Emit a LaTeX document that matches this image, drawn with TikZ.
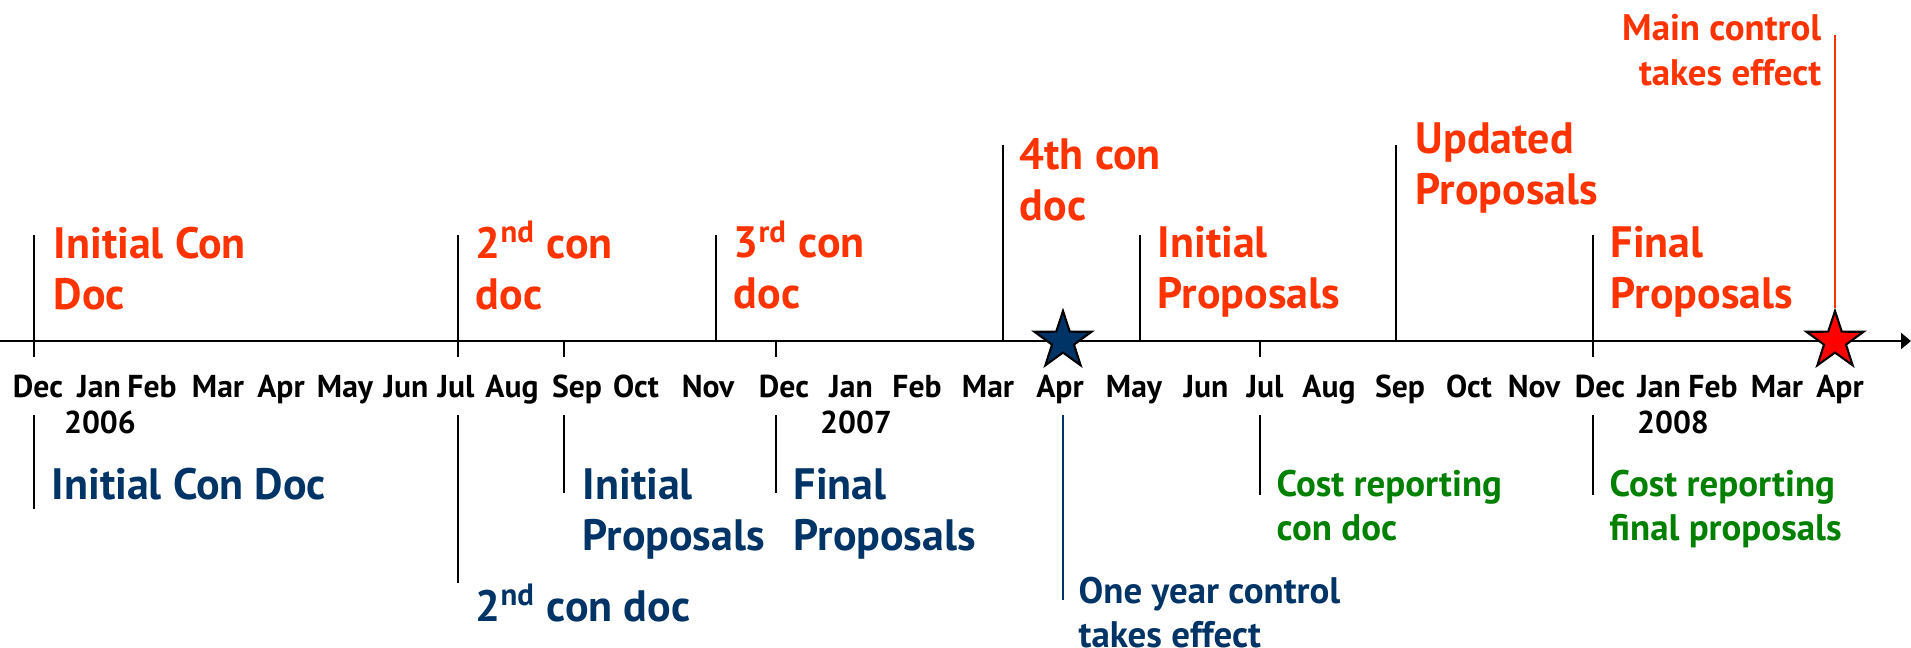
\documentclass[tikz,border=0pt]{standalone}
\usepackage{fontspec}
\setmainfont{PT Sans}
\usetikzlibrary{arrows.meta,shapes.geometric}

\definecolor{conred}{RGB}{255,51,0}
\definecolor{connavy}{RGB}{0,51,102}
\definecolor{congreen}{RGB}{0,128,0}

\tikzset{
  month/.style={anchor=base, inner sep=0, font=\bfseries\fontsize{9}{10}\selectfont},
  evbig/.style={anchor=north west, inner sep=0, align=left, font=\bfseries\fontsize{12.5}{14.5}\selectfont},
  evsmall/.style={anchor=north west, inner sep=0, align=left, font=\bfseries\fontsize{10.5}{12.6}\selectfont},
  tick/.style={line width=0.45pt},
  evstar/.style={star, star points=5, star point ratio=2.6, minimum size=0.6cm, inner sep=0, draw=black, line width=0.6pt},
}

\begin{document}
\begin{tikzpicture}[x=0.01cm, y=-0.01cm]
    \useasboundingbox (0,0) rectangle (1911,647);
    % time axis
    \coordinate (axL) at (0,341);
    \coordinate (axR) at (1911,341);
    \draw[line width=0.8pt, -{Triangle[length=0.1cm, width=0.16cm]}] (axL) -- (axR);

    % month and year labels
    \foreach \mx/\mname [count=\i] in {38/Dec, 99/Jan, 152/Feb, 218/Mar, 281/Apr, 345/May, 406/Jun, 456/Jul, 512/Aug, 577/Sep, 636/Oct,
        708/Nov, 784/Dec, 851/Jan, 917/Feb, 988/Mar, 1060/Apr, 1134/May, 1206/Jun, 1265/Jul, 1329/Aug, 1400/Sep, 1469/Oct,
        1534/Nov, 1600/Dec, 1659/Jan, 1713/Feb, 1777/Mar, 1840/Apr}
      \node[month] (m\i) at (\mx,397) {\mname};
    \node[month] (y06) at (100,433) {2006};
    \node[month] (y07) at (856,433) {2007};
    \node[month] (y08) at (1673,433) {2008};

    % event points on the axis
    \foreach \tname/\tx in {dec06/34, jul06/458, sep06/564, nov06/716, dec06b/776, mar07/1003, apr07/1063,
        may07/1140, jul07/1260, sep07/1396, dec07/1593, apr08/1835}
      \coordinate (\tname) at (\tx,341);

    % ticks above and just below the axis
    \foreach \tname/\tup/\tdown in {dec06/-106/16, jul06/-106/16, sep06/0/16, nov06/-106/0, dec06b/0/16,
        mar07/-196/0, may07/-106/0, jul07/0/16, sep07/-196/0, dec07/-106/16} {
      \draw[tick] (\tname) -- ++(0,\tup);
      \draw[tick] (\tname) -- ++(0,\tdown);
    }
    % ticks under the month row
    \foreach \tname/\tlen in {dec06/94, jul06/168, sep06/78, dec06b/78, jul07/80, dec07/80}
      \draw[tick] (\tname) ++(0,74) -- ++(0,\tlen);
    \draw[tick, connavy] (apr07) ++(0,74) -- ++(0,185);

    % stars
    \node[evstar, fill=connavy] (bluestar) at (apr07) {};
    \node[evstar, fill=red] (redstar) at (apr08) {};
    \draw[tick, conred] (redstar.north) -- ++(0,-273);

    % consultation events (top)
    \node[evbig, text=conred] (r1) at (53,226) {Initial Con\\Doc};
    \node[evbig, text=conred] (r2) at (475,226) {2\smash{\textsuperscript{nd}} con\\doc};
    \node[evbig, text=conred] (r3) at (733,226) {3\smash{\textsuperscript{rd}} con\\doc};
    \node[evbig, text=conred] (r4) at (1019,138) {4th con\\doc};
    \node[evbig, text=conred] (r5) at (1157,226) {Initial\\Proposals};
    \node[evbig, text=conred] (r6) at (1415,122) {Updated\\Proposals};
    \node[evbig, text=conred] (r7) at (1610,226) {Final\\Proposals};
    \node[evsmall, text=conred, anchor=north east, align=right] (r8) at (1822,14) {Main control\\takes effect};

    % events (bottom)
    \node[evbig, text=connavy] (b1) at (51,467) {Initial Con Doc};
    \node[evbig, text=connavy] (b2) at (475,589) {2\smash{\textsuperscript{nd}} con doc};
    \node[evbig, text=connavy] (b3) at (582,468) {Initial\\Proposals};
    \node[evbig, text=connavy] (b4) at (793,468) {Final\\Proposals};
    \node[evsmall, text=connavy] (b5) at (1078,576) {One year control\\takes effect};
    \node[evsmall, text=congreen] (g1) at (1276,469) {Cost reporting\\con doc};
    \node[evsmall, text=congreen] (g2) at (1609,469) {Cost reporting\\final proposals};
\end{tikzpicture}
\end{document}
